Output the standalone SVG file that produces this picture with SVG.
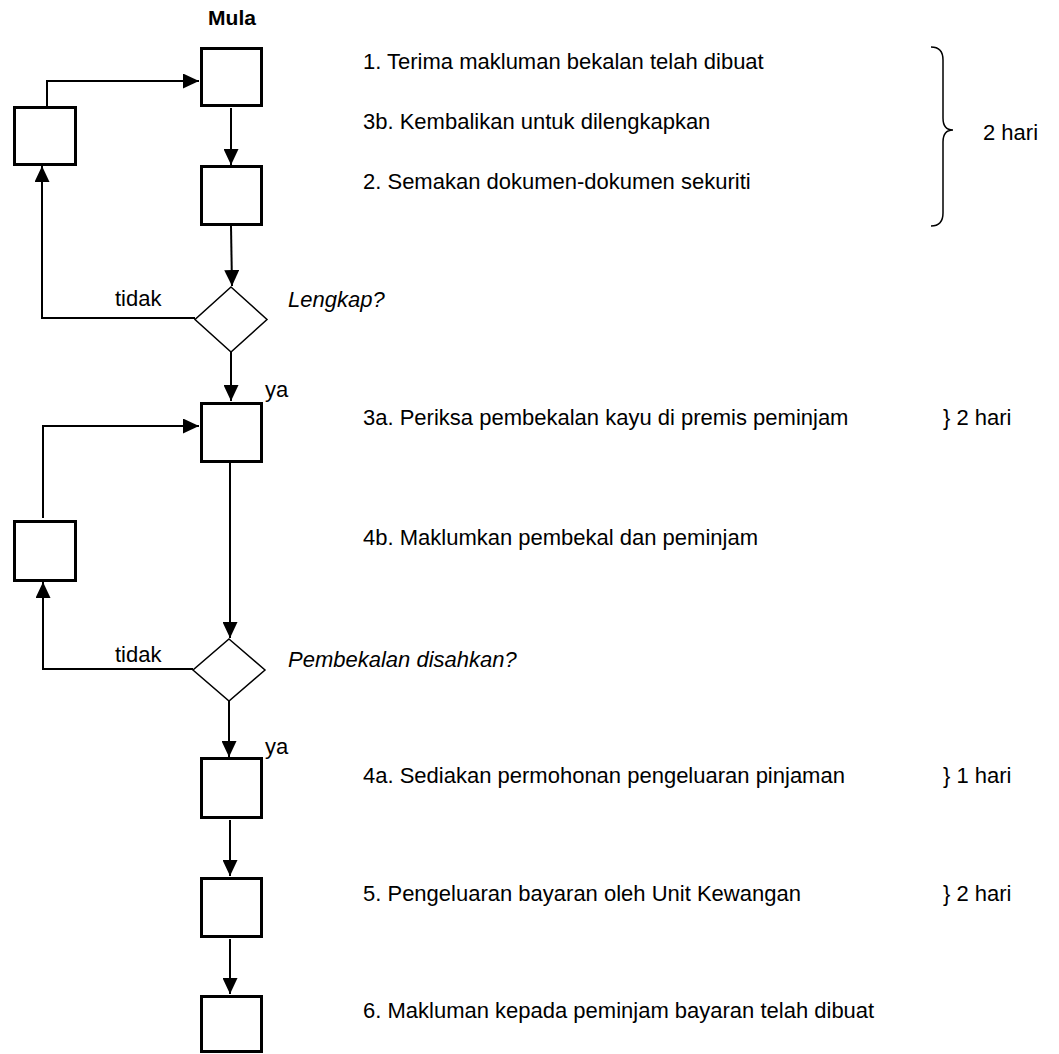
<svg xmlns="http://www.w3.org/2000/svg" width="1059" height="1054" viewBox="0 0 1059 1054">
<style>
.box{fill:#fff;stroke:#000;stroke-width:3}
.dia{fill:#fff;stroke:#000;stroke-width:1.5}
.con{fill:none;stroke:#000;stroke-width:2}
text{font-family:"Liberation Sans",Arial,sans-serif;font-size:22px;fill:#000}
.it{font-style:italic}
.b{font-weight:bold;font-size:21px}
</style>
<defs>
<marker id="ah" markerUnits="userSpaceOnUse" markerWidth="16" markerHeight="15" refX="16" refY="7.5" orient="auto">
<path d="M0,0 L16,7.5 L0,15 z" fill="#000"/>
</marker>
</defs>
<rect width="1059" height="1054" fill="#fff"/>
<g id="connectors">
<path class="con" d="M47,106 V81 H199" marker-end="url(#ah)"/>
<path class="con" d="M231,108 V165" marker-end="url(#ah)"/>
<path class="con" d="M231,226 L232,286" marker-end="url(#ah)"/>
<path class="con" d="M231,352 V401" marker-end="url(#ah)"/>
<path class="con" d="M195,318 H42 V166" marker-end="url(#ah)"/>
<path class="con" d="M43,518 V426 H199" marker-end="url(#ah)"/>
<path class="con" d="M230,463 V638" marker-end="url(#ah)"/>
<path class="con" d="M193,669 H43 V582" marker-end="url(#ah)"/>
<path class="con" d="M229,701 V757" marker-end="url(#ah)"/>
<path class="con" d="M230,820 V876" marker-end="url(#ah)"/>
<path class="con" d="M230,939 V994" marker-end="url(#ah)"/>
</g>
<g id="start"><text class="b" x="232" y="25" text-anchor="middle">Mula</text></g>
<g id="step1"><rect class="box" x="201.5" y="48.5" width="60" height="57"/></g>
<g id="step3b"><rect class="box" x="14.5" y="107.5" width="61" height="57"/></g>
<g id="step2"><rect class="box" x="201.5" y="166.5" width="60" height="58"/></g>
<g id="dec1"><polygon class="dia" points="231,287 267,319.5 231,352 195,319.5"/></g>
<g id="step3a"><rect class="box" x="201.5" y="403.5" width="60" height="58"/></g>
<g id="step4b"><rect class="box" x="14.5" y="521.5" width="61" height="59"/></g>
<g id="dec2"><polygon class="dia" points="229,639 265,670 229,701 193,670"/></g>
<g id="step4a"><rect class="box" x="201.5" y="758.5" width="60" height="59"/></g>
<g id="step5"><rect class="box" x="201.5" y="878.5" width="60" height="58"/></g>
<g id="step6"><rect class="box" x="201.5" y="996.5" width="60" height="55"/></g>
<g id="labels">
<text x="363" y="69">1. Terima makluman bekalan telah dibuat</text>
<text x="363" y="129">3b. Kembalikan untuk dilengkapkan</text>
<text x="363" y="189">2. Semakan dokumen-dokumen sekuriti</text>
<text x="115" y="306">tidak</text>
<text class="it" x="288" y="307">Lengkap?</text>
<text x="265" y="397">ya</text>
<text x="363" y="425">3a. Periksa pembekalan kayu di premis peminjam</text>
<text x="943" y="425">} 2 hari</text>
<text x="363" y="545">4b. Maklumkan pembekal dan peminjam</text>
<text x="115" y="662">tidak</text>
<text class="it" x="288" y="667">Pembekalan disahkan?</text>
<text x="265" y="754">ya</text>
<text x="363" y="783">4a. Sediakan permohonan pengeluaran pinjaman</text>
<text x="943" y="783">} 1 hari</text>
<text x="363" y="901">5. Pengeluaran bayaran oleh Unit Kewangan</text>
<text x="943" y="901">} 2 hari</text>
<text x="363" y="1018">6. Makluman kepada peminjam bayaran telah dibuat</text>
<path d="M931,47 Q943,47 943,60 V118 Q943,130 953,130 Q943,130 943,142 V213 Q943,226 931,226" fill="none" stroke="#000" stroke-width="1.5"/>
<text x="983" y="140">2 hari</text>
</g>
</svg>
